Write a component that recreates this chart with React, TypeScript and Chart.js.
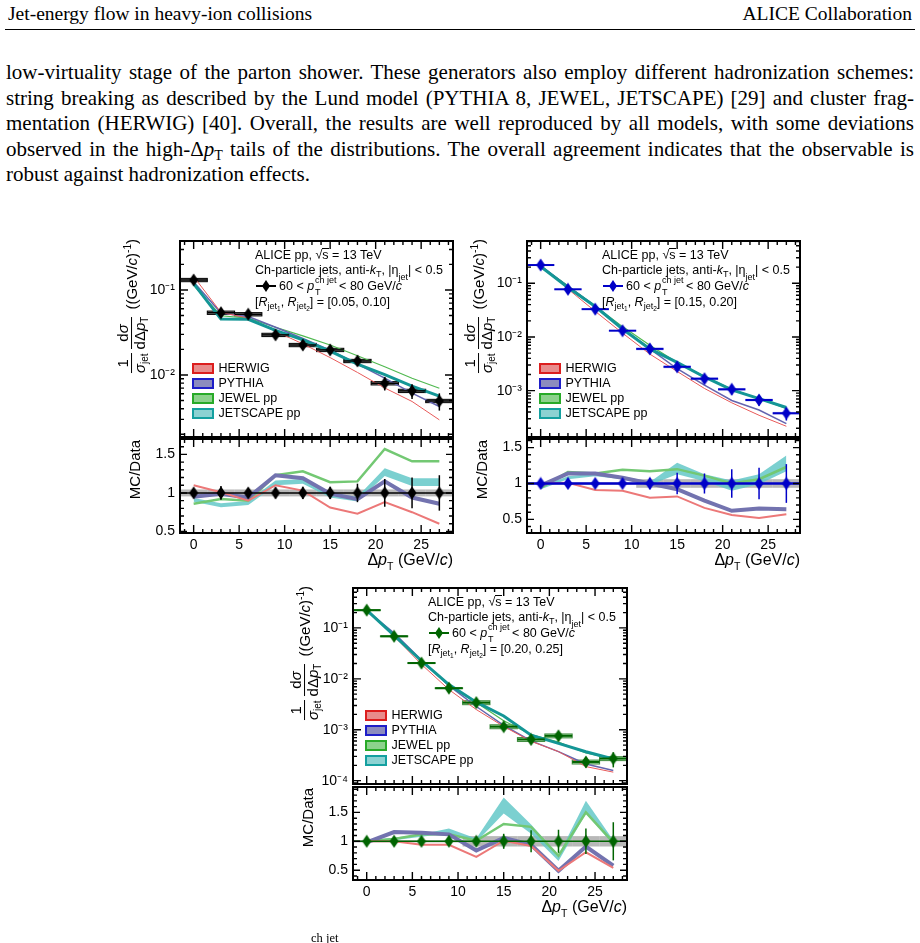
import React, { useEffect, useRef } from 'react';
import { Chart, registerables } from 'chart.js';

Chart.register(...registerables);

const SANS = '"Liberation Sans", Arial, Helvetica, sans-serif';
const SERIF = '"Liberation Serif", "Times New Roman", Times, serif';

// ---------------- data ----------------
const bins = [0, 3, 6, 9, 12, 15, 18, 21, 24, 27];
const binHalfWidth = 1.5;
const xTickValues = [0, 5, 10, 15, 20, 25];
const ratioTickValues = [0.5, 1, 1.5];
const unity = [1, 1, 1, 1, 1, 1, 1, 1, 1, 1];
const modelNames = ['HERWIG', 'PYTHIA', 'JEWEL pp', 'JETSCAPE pp'];

// Panel A: [R_jet1, R_jet2] = [0.05, 0.10]
const dataA = [0.131, 0.054, 0.0518, 0.0296, 0.0225, 0.0197, 0.0146, 0.00798, 0.00649, 0.00494];
const statA = [0.04, 0.09, 0.06, 0.07, 0.08, 0.08, 0.12, 0.18, 0.2, 0.23];
const systA = [0.045, 0.045, 0.045, 0.045, 0.045, 0.045, 0.045, 0.045, 0.045, 0.045];
const herwigA = [0.144, 0.0545, 0.0466, 0.0326, 0.0232, 0.016, 0.0107, 0.00702, 0.00487, 0.00296];
const pythiaA = [0.124, 0.0535, 0.0487, 0.0364, 0.0268, 0.0195, 0.0134, 0.00918, 0.0061, 0.00425];
const jewelA = [0.113, 0.0497, 0.0466, 0.0364, 0.0288, 0.0225, 0.0168, 0.0125, 0.00915, 0.00697];
const jetscapeA = [0.119, 0.0454, 0.0451, 0.0334, 0.0259, 0.0191, 0.0134, 0.0101, 0.0074, 0.00563];
const herwigRatioA = [1.1, 1.01, 0.9, 1.1, 1.03, 0.81, 0.73, 0.88, 0.75, 0.6];
const pythiaRatioA = [0.95, 0.99, 0.94, 1.23, 1.19, 0.99, 0.92, 1.15, 0.94, 0.86];
const jewelRatioA = [0.86, 0.92, 0.9, 1.23, 1.28, 1.14, 1.15, 1.57, 1.41, 1.41];
const jetscapeRatioA = [0.91, 0.84, 0.87, 1.13, 1.15, 0.97, 0.92, 1.27, 1.14, 1.14];
const jetscapeErrA = [0.025, 0.025, 0.025, 0.03, 0.03, 0.03, 0.03, 0.05, 0.05, 0.05];

// Panel B: [0.15, 0.20]
const dataB = [0.219, 0.0774, 0.033, 0.0131, 0.006, 0.00278, 0.00167, 0.00106, 0.00067, 0.00038];
const statB = [0.05, 0.04, 0.04, 0.05, 0.08, 0.15, 0.14, 0.2, 0.22, 0.27];
const systB = [0.015, 0.015, 0.015, 0.015, 0.06, 0.06, 0.06, 0.06, 0.06, 0.06];
const herwigB = [0.219, 0.0782, 0.03, 0.0118, 0.0048, 0.00228, 0.0011, 0.000594, 0.000348, 0.000217];
const pythiaB = [0.212, 0.0882, 0.0376, 0.0141, 0.006, 0.00256, 0.00127, 0.000657, 0.000436, 0.000243];
const jewelB = [0.206, 0.0898, 0.0376, 0.0156, 0.00702, 0.00334, 0.00185, 0.00106, 0.00071, 0.000467];
const jetscapeB = [0.206, 0.0836, 0.037, 0.0141, 0.006, 0.00336, 0.0018, 0.00103, 0.00071, 0.000486];
const herwigRatioB = [1.0, 1.01, 0.91, 0.9, 0.8, 0.82, 0.66, 0.56, 0.52, 0.57];
const pythiaRatioB = [0.97, 1.14, 1.14, 1.08, 1.0, 0.92, 0.76, 0.62, 0.65, 0.64];
const jewelRatioB = [0.94, 1.16, 1.14, 1.19, 1.17, 1.2, 1.11, 1.0, 1.06, 1.23];
const jetscapeRatioB = [0.94, 1.08, 1.12, 1.08, 1.0, 1.21, 1.08, 0.97, 1.06, 1.28];
const jetscapeErrB = [0.02, 0.02, 0.02, 0.02, 0.02, 0.08, 0.05, 0.07, 0.07, 0.11];

// Panel C: [0.20, 0.25]
const dataC = [0.223, 0.0685, 0.0204, 0.00655, 0.00341, 0.00115, 0.000645, 0.00076, 0.000233, 0.000272];
const statC = [0.04, 0.04, 0.04, 0.05, 0.06, 0.13, 0.19, 0.2, 0.22, 0.33];
const systC = [0.02, 0.02, 0.02, 0.02, 0.09, 0.09, 0.09, 0.09, 0.09, 0.09];
const herwigC = [0.223, 0.0685, 0.0192, 0.00616, 0.00249, 0.00116, 0.000593, 0.000372, 0.000189, 0.000147];
const pythiaC = [0.219, 0.0795, 0.0235, 0.00734, 0.00286, 0.00122, 0.000606, 0.000372, 0.000212, 0.000158];
const jewelC = [0.223, 0.0712, 0.0228, 0.00734, 0.00344, 0.0015, 0.000806, 0.00057, 0.00035, 0.000267];
const jetscapeC = [0.223, 0.0712, 0.0224, 0.00773, 0.00348, 0.00186, 0.00078, 0.00054, 0.00037, 0.000267];
const herwigRatioC = [1.0, 1.0, 0.94, 0.94, 0.73, 1.01, 0.92, 0.49, 0.81, 0.54];
const pythiaRatioC = [0.98, 1.16, 1.15, 1.12, 0.84, 1.06, 0.94, 0.49, 0.91, 0.58];
const jewelRatioC = [1.0, 1.04, 1.12, 1.12, 1.01, 1.3, 1.25, 0.75, 1.5, 0.98];
const jetscapeRatioC = [1.0, 1.04, 1.1, 1.18, 1.02, 1.62, 1.21, 0.71, 1.59, 0.98];
const jetscapeErrC = [0.02, 0.02, 0.02, 0.04, 0.03, 0.14, 0.08, 0.05, 0.11, 0.04];

// ---------------- styles ----------------
const MAIN_COLORS = ['rgb(232,90,90)', 'rgb(100,100,175)', 'rgb(80,185,80)', 'rgb(20,150,150)'];
const MAIN_WIDTHS = [1, 1.5, 1.2, 3];
const RATIO_COLORS = ['rgb(236,120,120)', 'rgb(115,115,175)', 'rgb(115,200,115)'];
const RATIO_WIDTHS = [2, 4, 2.5];
const JS_BAND = 'rgba(100,200,200,0.85)';
const LEG_FILL = ['rgb(232,140,140)', 'rgb(140,140,190)', 'rgb(140,210,140)', 'rgb(140,210,210)'];
const LEG_BORDER = ['rgb(220,30,30)', 'rgb(30,30,200)', 'rgb(40,170,40)', 'rgb(20,160,160)'];

type PanelCfg = {
  left: number; width: number; mainTop: number; mainH: number; ratioTop: number; ratioH: number;
  yMin: number; yMax: number; rMin: number; rMax: number;
  data: number[]; stat: number[]; syst: number[];
  models: number[][]; ratios: number[][]; jsRatio: number[]; jsErr: number[];
  color: string; boxFill: string; boxStroke: string | null; barW: number; oneLineW: number;
  rLabel: string;
};

const panels: PanelCfg[] = [
  {
    left: 180, width: 273, mainTop: 241, mainH: 196, ratioTop: 439, ratioH: 94,
    yMin: 0.00186, yMax: 0.377, rMin: 0.48, rMax: 1.7,
    data: dataA, stat: statA, syst: systA,
    models: [herwigA, pythiaA, jewelA, jetscapeA],
    ratios: [herwigRatioA, pythiaRatioA, jewelRatioA], jsRatio: jetscapeRatioA, jsErr: jetscapeErrA,
    color: '#000', boxFill: 'rgba(100,100,100,0.7)', boxStroke: '#000', barW: 1.5, oneLineW: 1.5,
    rLabel: '[0.05, 0.10]',
  },
  {
    left: 527, width: 273, mainTop: 241, mainH: 196, ratioTop: 439, ratioH: 94,
    yMin: 1.37e-4, yMax: 0.614, rMin: 0.31, rMax: 1.62,
    data: dataB, stat: statB, syst: systB,
    models: [herwigB, pythiaB, jewelB, jetscapeB],
    ratios: [herwigRatioB, pythiaRatioB, jewelRatioB], jsRatio: jetscapeRatioB, jsErr: jetscapeErrB,
    color: 'rgb(0,0,200)', boxFill: 'rgba(60,60,230,0.3)', boxStroke: null, barW: 2, oneLineW: 2.5,
    rLabel: '[0.15, 0.20]',
  },
  {
    left: 353, width: 274, mainTop: 588, mainH: 196, ratioTop: 787, ratioH: 93,
    yMin: 8.6e-5, yMax: 0.608, rMin: 0.33, rMax: 1.94,
    data: dataC, stat: statC, syst: systC,
    models: [herwigC, pythiaC, jewelC, jetscapeC],
    ratios: [herwigRatioC, pythiaRatioC, jewelRatioC], jsRatio: jetscapeRatioC, jsErr: jetscapeErrC,
    color: 'rgb(0,100,0)', boxFill: 'rgba(70,170,70,0.45)', boxStroke: 'rgba(0,100,0,0.7)', barW: 2, oneLineW: 1.5,
    rLabel: '[0.20, 0.25]',
  },
];

const YW = 56; // y-axis box width in canvas
const PT = 8;
const PR = 14;
const PB = 4;
const XH = 34;

const supMap: Record<string, string> = { '-': '⁻', '0': '⁰', '1': '¹', '2': '²', '3': '³', '4': '⁴', '5': '⁵' };
const toSup = (s: string) => s.split('').map((c) => supMap[c] ?? c).join('');

function diamond(color: string) {
  const c = document.createElement('canvas');
  c.width = 10; c.height = 14;
  const g = c.getContext('2d')!;
  g.fillStyle = color;
  g.beginPath();
  g.moveTo(5, 0.5); g.lineTo(9.5, 7); g.lineTo(5, 13.5); g.lineTo(0.5, 7);
  g.closePath(); g.fill();
  return c;
}

const pts = (arr: number[]) => bins.map((b, i) => ({ x: b, y: arr[i] }));

const noPad = (s: any) => { s.paddingTop = 0; s.paddingBottom = 0; s.paddingLeft = 0; s.paddingRight = 0; };

function drawFrame(chart: any, log: boolean, xl: [number, number], yl: [number, number]) {
  const { ctx, chartArea: a, scales } = chart;
  const xs = scales.x, ys = scales.y;
  ctx.save();
  ctx.strokeStyle = '#000';
  ctx.lineWidth = 1.4;
  ctx.beginPath();
  for (let v = Math.ceil(xs.min); v <= Math.floor(xs.max); v++) {
    const len = v % 5 === 0 ? xl[0] : xl[1];
    const p = xs.getPixelForValue(v);
    ctx.moveTo(p, a.bottom); ctx.lineTo(p, a.bottom - len);
    ctx.moveTo(p, a.top); ctx.lineTo(p, a.top + len);
  }
  const yv: { v: number; major: boolean }[] = [];
  if (log) {
    for (let e = Math.floor(Math.log10(ys.min)); e <= Math.ceil(Math.log10(ys.max)); e++) {
      for (let k = 1; k <= 9; k++) {
        const v = k * Math.pow(10, e);
        if (v >= ys.min && v <= ys.max) yv.push({ v, major: k === 1 });
      }
    }
  } else {
    for (let i = Math.ceil(ys.min * 10); i <= Math.floor(ys.max * 10); i++) {
      yv.push({ v: i / 10, major: i % 5 === 0 });
    }
  }
  yv.forEach(({ v, major }) => {
    const len = major ? yl[0] : yl[1];
    const p = ys.getPixelForValue(v);
    ctx.moveTo(a.left, p); ctx.lineTo(a.left + len, p);
    ctx.moveTo(a.right, p); ctx.lineTo(a.right - len, p);
  });
  ctx.stroke();
  ctx.lineWidth = 2;
  ctx.strokeRect(a.left, a.top, a.right - a.left, a.bottom - a.top);
  ctx.restore();
}

function clipArea(chart: any) {
  const { ctx, chartArea: a } = chart;
  ctx.beginPath();
  ctx.rect(a.left, a.top, a.right - a.left, a.bottom - a.top);
  ctx.clip();
}

function mainPlugin(cfg: PanelCfg) {
  return {
    id: 'mainDeco',
    beforeDatasetsDraw(chart: any) {
      const { ctx, scales: { x, y } } = chart;
      ctx.save();
      clipArea(chart);
      bins.forEach((b, i) => {
        const x0 = x.getPixelForValue(b - binHalfWidth);
        const x1 = x.getPixelForValue(b + binHalfWidth);
        const y0 = y.getPixelForValue(cfg.data[i] * (1 + cfg.syst[i]));
        const y1 = y.getPixelForValue(cfg.data[i] * (1 - cfg.syst[i]));
        ctx.fillStyle = cfg.boxFill;
        ctx.fillRect(x0, y0, x1 - x0, y1 - y0);
        if (cfg.boxStroke) {
          ctx.strokeStyle = cfg.boxStroke;
          ctx.lineWidth = 1;
          ctx.strokeRect(x0, y0, x1 - x0, y1 - y0);
        }
      });
      ctx.restore();
    },
    afterDatasetsDraw(chart: any) {
      const { ctx, scales: { x, y } } = chart;
      ctx.save();
      clipArea(chart);
      ctx.strokeStyle = cfg.color;
      bins.forEach((b, i) => {
        const py = y.getPixelForValue(cfg.data[i]);
        ctx.lineWidth = cfg.barW;
        ctx.beginPath();
        ctx.moveTo(x.getPixelForValue(b - binHalfWidth), py);
        ctx.lineTo(x.getPixelForValue(b + binHalfWidth), py);
        ctx.stroke();
        const px = x.getPixelForValue(b);
        ctx.lineWidth = 1.5;
        ctx.beginPath();
        ctx.moveTo(px, y.getPixelForValue(cfg.data[i] * (1 + cfg.stat[i])));
        ctx.lineTo(px, y.getPixelForValue(cfg.data[i] * (1 - cfg.stat[i])));
        ctx.stroke();
      });
      ctx.restore();
    },
    afterDraw(chart: any) {
      drawFrame(chart, true, [8, 4], [8, 4]);
    },
  };
}

function ratioPlugin(cfg: PanelCfg) {
  return {
    id: 'ratioDeco',
    beforeDatasetsDraw(chart: any) {
      const { ctx, scales: { x, y } } = chart;
      ctx.save();
      clipArea(chart);
      ctx.fillStyle = 'rgba(125,125,125,0.55)';
      bins.forEach((b, i) => {
        const x0 = x.getPixelForValue(b - binHalfWidth);
        const x1 = x.getPixelForValue(b + binHalfWidth);
        const y0 = y.getPixelForValue(1 + cfg.syst[i]);
        const y1 = y.getPixelForValue(1 - cfg.syst[i]);
        ctx.fillRect(x0, y0, x1 - x0, y1 - y0);
      });
      ctx.restore();
    },
    afterDatasetsDraw(chart: any) {
      const { ctx, chartArea: a, scales: { x, y } } = chart;
      ctx.save();
      clipArea(chart);
      ctx.strokeStyle = cfg.color;
      ctx.lineWidth = cfg.oneLineW;
      const p1 = y.getPixelForValue(1);
      ctx.beginPath();
      ctx.moveTo(a.left, p1); ctx.lineTo(a.right, p1);
      ctx.stroke();
      ctx.lineWidth = 1.5;
      bins.forEach((b, i) => {
        const px = x.getPixelForValue(b);
        ctx.beginPath();
        ctx.moveTo(px, y.getPixelForValue(unity[i] + cfg.stat[i]));
        ctx.lineTo(px, y.getPixelForValue(unity[i] - cfg.stat[i]));
        ctx.stroke();
      });
      ctx.restore();
    },
    afterDraw(chart: any) {
      drawFrame(chart, false, [8, 4], [7, 4]);
    },
  };
}

const tickFont = { family: SANS, size: 14 };

function Panel({ cfg }: { cfg: PanelCfg }) {
  const mainRef = useRef<HTMLCanvasElement>(null);
  const ratioRef = useRef<HTMLCanvasElement>(null);
  const cw = YW + cfg.width + PR;
  const mainHt = PT + cfg.mainH + PB;
  const ratioHt = PT + cfg.ratioH + XH;

  useEffect(() => {
    const dia = diamond(cfg.color);
    const logDecades: number[] = [];
    for (let e = -6; e <= 1; e++) {
      const v = Math.pow(10, e);
      if (v >= cfg.yMin && v <= cfg.yMax) logDecades.push(v);
    }
    const main = new Chart(mainRef.current!, {
      type: 'line',
      data: {
        datasets: [
          { label: 'Data', data: pts(cfg.data), showLine: false, pointStyle: dia as any, pointRadius: 6, pointHoverRadius: 6, borderWidth: 0, borderColor: cfg.color, backgroundColor: cfg.color },
          { label: modelNames[3], data: pts(cfg.models[3]), borderColor: MAIN_COLORS[3], borderWidth: MAIN_WIDTHS[3], pointRadius: 0, fill: false, tension: 0 },
          { label: modelNames[0], data: pts(cfg.models[0]), borderColor: MAIN_COLORS[0], borderWidth: MAIN_WIDTHS[0], pointRadius: 0, fill: false, tension: 0 },
          { label: modelNames[1], data: pts(cfg.models[1]), borderColor: MAIN_COLORS[1], borderWidth: MAIN_WIDTHS[1], pointRadius: 0, fill: false, tension: 0 },
          { label: modelNames[2], data: pts(cfg.models[2]), borderColor: MAIN_COLORS[2], borderWidth: MAIN_WIDTHS[2], pointRadius: 0, fill: false, tension: 0 },
        ],
      },
      options: {
        animation: false,
        responsive: false,
        maintainAspectRatio: false,
        events: [],
        layout: { autoPadding: false, padding: { top: PT, right: PR, bottom: PB, left: 0 } },
        plugins: { legend: { display: false }, tooltip: { enabled: false } },
        scales: {
          x: { type: 'linear', min: -binHalfWidth, max: 27 + binHalfWidth, display: false, afterFit: noPad },
          y: {
            type: 'logarithmic', min: cfg.yMin, max: cfg.yMax, bounds: 'data',
            afterFit: (s: any) => { s.width = YW; noPad(s); },
            afterBuildTicks: (s: any) => { s.ticks = logDecades.map((v) => ({ value: v, major: true })); },
            grid: { display: false, drawTicks: false },
            border: { display: false },
            ticks: {
              font: tickFont, color: '#000', padding: 5, autoSkip: false,
              callback: (v: any) => '10' + toSup(String(Math.round(Math.log10(Number(v))))),
            },
          },
        },
      } as any,
      plugins: [mainPlugin(cfg)],
    });

    const ratio = new Chart(ratioRef.current!, {
      type: 'line',
      data: {
        datasets: [
          { label: 'Data', data: pts(unity), showLine: false, pointStyle: dia as any, pointRadius: 6, pointHoverRadius: 6, borderWidth: 0, borderColor: cfg.color, backgroundColor: cfg.color },
          { label: modelNames[0], data: pts(cfg.ratios[0]), borderColor: RATIO_COLORS[0], borderWidth: RATIO_WIDTHS[0], pointRadius: 0, fill: false, tension: 0 },
          { label: modelNames[1], data: pts(cfg.ratios[1]), borderColor: RATIO_COLORS[1], borderWidth: RATIO_WIDTHS[1], pointRadius: 0, fill: false, tension: 0 },
          { label: modelNames[2], data: pts(cfg.ratios[2]), borderColor: RATIO_COLORS[2], borderWidth: RATIO_WIDTHS[2], pointRadius: 0, fill: false, tension: 0 },
          { label: 'JETSCAPE lo', data: bins.map((b, i) => ({ x: b, y: cfg.jsRatio[i] - cfg.jsErr[i] })), borderColor: 'rgba(0,0,0,0)', borderWidth: 1, pointRadius: 0, fill: false, tension: 0 },
          { label: modelNames[3], data: bins.map((b, i) => ({ x: b, y: cfg.jsRatio[i] + cfg.jsErr[i] })), borderColor: 'rgba(0,0,0,0)', borderWidth: 1, pointRadius: 0, fill: '-1', backgroundColor: JS_BAND, tension: 0 },
        ],
      },
      options: {
        animation: false,
        responsive: false,
        maintainAspectRatio: false,
        events: [],
        layout: { autoPadding: false, padding: { top: PT, right: PR, bottom: 0, left: 0 } },
        plugins: { legend: { display: false }, tooltip: { enabled: false } },
        scales: {
          x: {
            type: 'linear', min: -binHalfWidth, max: 27 + binHalfWidth, bounds: 'data',
            afterFit: (s: any) => { s.height = XH; noPad(s); },
            afterBuildTicks: (s: any) => { s.ticks = xTickValues.map((v) => ({ value: v })); },
            grid: { display: false, drawTicks: false },
            border: { display: false },
            ticks: { font: tickFont, color: '#000', padding: 4, autoSkip: false, maxRotation: 0, callback: (v: any) => String(v) },
          },
          y: {
            type: 'linear', min: cfg.rMin, max: cfg.rMax, bounds: 'data',
            afterFit: (s: any) => { s.width = YW; noPad(s); },
            afterBuildTicks: (s: any) => { s.ticks = ratioTickValues.filter((v) => v >= cfg.rMin && v <= cfg.rMax).map((v) => ({ value: v })); },
            grid: { display: false, drawTicks: false },
            border: { display: false },
            ticks: { font: tickFont, color: '#000', padding: 5, autoSkip: false, callback: (v: any) => String(v) },
          },
        },
      } as any,
      plugins: [ratioPlugin(cfg)],
    });
    return () => { main.destroy(); ratio.destroy(); };
  }, [cfg]);

  const L = cfg.left;
  const annX = L + 75;
  const annY = cfg.mainTop + 14;
  const annOff = [0, 15, 30.5, 46.5];
  const annBase: React.CSSProperties = { position: 'absolute', left: annX, whiteSpace: 'nowrap', fontFamily: SANS, fontSize: 12.5, lineHeight: '16px', color: '#000' };
  const subS: React.CSSProperties = { fontSize: 9, verticalAlign: -3, lineHeight: 0 };
  const subSub: React.CSSProperties = { fontSize: 6.5, verticalAlign: -2, lineHeight: 0 };
  const legX = L + 12;
  const legY = cfg.mainTop + 127;

  return (
    <>
      <canvas ref={mainRef} width={cw} height={mainHt} style={{ position: 'absolute', left: L - YW, top: cfg.mainTop - PT, width: cw, height: mainHt }} />
      <canvas ref={ratioRef} width={cw} height={ratioHt} style={{ position: 'absolute', left: L - YW, top: cfg.ratioTop - PT, width: cw, height: ratioHt }} />

      {/* annotation */}
      <div style={{ ...annBase, top: annY + annOff[0] - 8 }}>ALICE pp, √<span style={{ borderTop: '1px solid #000', lineHeight: '12px', display: 'inline-block' }}>s</span> = 13 TeV</div>
      <div style={{ ...annBase, top: annY + annOff[1] - 8 }}>
        Ch-particle jets, anti-<i>k</i><sub style={subS}>T</sub>, |η<span style={{ position: 'relative', top: 6, fontSize: 9 }}>jet</span>| &lt; 0.5
      </div>
      <div style={{ ...annBase, top: annY + annOff[2] - 8 }}>
        <svg width="20" height="14" style={{ verticalAlign: 'middle', marginLeft: 1 }}>
          <line x1="0" y1="7" x2="20" y2="7" stroke={cfg.color} strokeWidth="2" />
          <path d="M10 1 L14 7 L10 13 L6 7 Z" fill={cfg.color} />
        </svg>
        <span style={{ marginLeft: 3 }}>60 &lt; <i>p</i>
          <span style={{ position: 'relative', display: 'inline-block', width: 25, height: 10 }}>
            <span style={{ position: 'absolute', left: 1, top: -5, fontSize: 9, lineHeight: '10px' }}>ch jet</span>
            <span style={{ position: 'absolute', left: 1, top: 7.5, fontSize: 9, lineHeight: '10px' }}>T</span>
          </span>
          &lt; 80 GeV/<i>c</i></span>
      </div>
      <div style={{ ...annBase, top: annY + annOff[3] - 8 }}>
        [<i>R</i><sub style={subS}>jet<sub style={subSub}>1</sub></sub>, <i>R</i><sub style={subS}>jet<sub style={subSub}>2</sub></sub>] = {cfg.rLabel}
      </div>

      {/* legend */}
      {modelNames.map((n, i) => (
        <React.Fragment key={n}>
          <div style={{ position: 'absolute', left: legX, top: legY + i * 15 - 5.5, width: 22, height: 11, boxSizing: 'border-box', border: `2px solid ${LEG_BORDER[i]}`, background: LEG_FILL[i] }} />
          <div style={{ position: 'absolute', left: legX + 26.5, top: legY + i * 15 - 8, fontFamily: SANS, fontSize: 12.5, lineHeight: '16px', whiteSpace: 'nowrap' }}>{n}</div>
        </React.Fragment>
      ))}

      {/* y titles */}
      <div style={{ position: 'absolute', left: L - 49 - 18, top: cfg.mainTop - 2, width: 0, height: 0 }}>
        <div style={{ position: 'absolute', right: 0, top: 0, height: 36, display: 'flex', alignItems: 'center', whiteSpace: 'nowrap', transformOrigin: 'right top', transform: 'rotate(-90deg)', fontFamily: SANS, fontSize: 15, color: '#000' }}>
          <Frac num={<span>1</span>} den={<span><i>σ</i><sub style={{ fontSize: 10, verticalAlign: -3, lineHeight: 0 }}>jet</sub></span>} />
          <Frac num={<span>d<i>σ</i></span>} den={<span>dΔ<i>p</i><sub style={{ fontSize: 10, verticalAlign: -3, lineHeight: 0 }}>T</sub></span>} />
          <span style={{ marginLeft: 5 }}>((GeV/<i>c</i>)<sup style={{ fontSize: 10, verticalAlign: 6, lineHeight: 0 }}>-1</sup>)</span>
        </div>
      </div>
      <div style={{ position: 'absolute', left: L - 45 - 9, top: cfg.ratioTop + 1, width: 0, height: 0 }}>
        <div style={{ position: 'absolute', right: 0, top: 0, height: 18, lineHeight: '18px', whiteSpace: 'nowrap', transformOrigin: 'right top', transform: 'rotate(-90deg)', fontFamily: SANS, fontSize: 15, color: '#000' }}>MC/Data</div>
      </div>

      {/* x title */}
      <div style={{ position: 'absolute', right: 920 - (L + cfg.width), top: cfg.ratioTop + cfg.ratioH + 27 - 9, fontFamily: SANS, fontSize: 16, lineHeight: '18px', whiteSpace: 'nowrap' }}>
        Δ<i>p</i><sub style={{ fontSize: 10.5, verticalAlign: -5, lineHeight: 0 }}>T</sub> (GeV/<i>c</i>)
      </div>
    </>
  );
}

function Frac({ num, den }: { num: React.ReactNode; den: React.ReactNode }) {
  return (
    <span style={{ display: 'inline-flex', flexDirection: 'column', alignItems: 'center', margin: '0 2px', lineHeight: '16px' }}>
      <span>{num}</span>
      <span style={{ alignSelf: 'stretch', height: 0, borderTop: '1.3px solid #000' }} />
      <span>{den}</span>
    </span>
  );
}

const paragraph = [
  'low-virtuality stage of the parton shower. These generators also employ different hadronization schemes:',
  'string breaking as described by the Lund model (PYTHIA 8, JEWEL, JETSCAPE) [29] and cluster frag-',
  'mentation (HERWIG) [40]. Overall, the results are well reproduced by all models, with some deviations',
  null,
  'robust against hadronization effects.',
];

export default function App() {
  const lineStyle = (i: number, last: boolean): React.CSSProperties => ({
    position: 'absolute', left: 6, top: 60 + i * 25.5, width: 908, height: 24, lineHeight: '24px',
    fontFamily: SERIF, fontSize: 21, textAlign: last ? 'left' : 'justify', textAlignLast: last ? 'left' : 'justify',
    color: '#000', overflow: 'hidden',
  });
  return (
    <div style={{ position: 'absolute', left: 0, top: 0, width: 920, height: 943, background: '#fff', overflow: 'hidden', color: '#000' }}>
      <div style={{ position: 'absolute', left: 8, top: 4, fontFamily: SERIF, fontSize: 19.5, lineHeight: '20px', whiteSpace: 'nowrap' }}>Jet-energy flow in heavy-ion collisions</div>
      <div style={{ position: 'absolute', right: 8, top: 4, fontFamily: SERIF, fontSize: 19.5, lineHeight: '20px', whiteSpace: 'nowrap' }}>ALICE Collaboration</div>
      <div style={{ position: 'absolute', left: 5, top: 29, width: 910, height: 0, borderTop: '1px solid #000' }} />

      {paragraph.map((t, i) =>
        t === null ? (
          <div key={i} style={lineStyle(i, false)}>
            observed in the high-Δ<i>p</i><sub style={{ fontSize: 14, verticalAlign: -4, lineHeight: 0 }}>T</sub> tails of the distributions. The overall agreement indicates that the observable is
          </div>
        ) : (
          <div key={i} style={lineStyle(i, i === paragraph.length - 1)}>{t}</div>
        )
      )}

      {panels.map((p, i) => <Panel key={i} cfg={p} />)}

      <div style={{ position: 'absolute', left: 311, top: 931, fontFamily: SERIF, fontSize: 12.5, lineHeight: '14px', whiteSpace: 'nowrap' }}>ch jet</div>
    </div>
  );
}
